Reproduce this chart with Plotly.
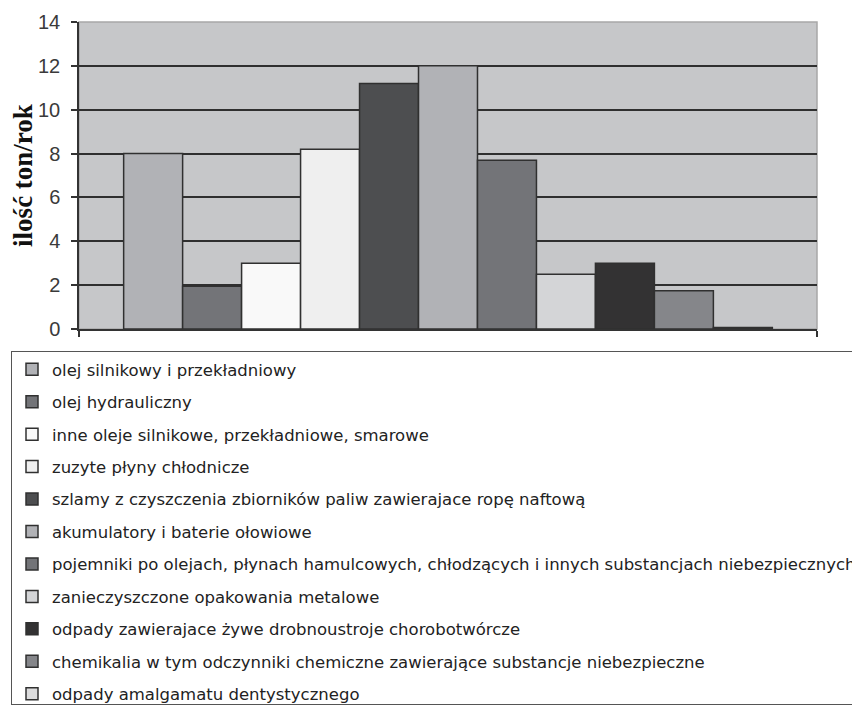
import plotly.graph_objects as go

categories = [
    "olej silnikowy i przekładniowy",
    "olej hydrauliczny",
    "inne oleje silnikowe, przekładniowe, smarowe",
    "zuzyte płyny chłodnicze",
    "szlamy z czyszczenia zbiorników paliw zawierajace ropę naftową",
    "akumulatory i baterie ołowiowe",
    "pojemniki po olejach, płynach hamulcowych, chłodzących i innych substancjach niebezpiecznych",
    "zanieczyszczone opakowania metalowe",
    "odpady zawierajace żywe drobnoustroje chorobotwórcze",
    "chemikalia w tym odczynniki chemiczne zawierające substancje niebezpieczne",
    "odpady amalgamatu dentystycznego",
]
values = [8.0, 1.95, 3.0, 8.2, 11.2, 12.0, 7.7, 2.5, 3.0, 1.75, 0.07]
colors = ["#b1b2b6", "#737478", "#f9f9f9", "#efefef", "#4d4e50", "#b1b2b6",
          "#737478", "#d4d5d7", "#333233", "#85868a", "#dcdcdd"]
y_ticks = [0, 2, 4, 6, 8, 10, 12, 14]

fig = go.Figure()
for i, (name, v, c) in enumerate(zip(categories, values, colors)):
    fig.add_trace(go.Bar(
        x=[0], y=[v], name=name, legendgroup=f"g{i}",
        marker=dict(color=c, line=dict(color="#303030", width=1.5)),
    ))

W, H = 860, 707
OFF = 8  # page body margin
ml, mr, mt, mb = 79 - OFF, W - (817 - OFF), 22 - OFF, H - (329 - OFF)
pw, ph = W - ml - mr, H - mt - mb

fig.update_layout(
    width=W, height=H,
    margin=dict(l=ml, r=mr, t=mt, b=mb, pad=0, autoexpand=False),
    paper_bgcolor="white",
    plot_bgcolor="#c6c7c9",
    barmode="group",
    bargap=0.121,
    bargroupgap=0,
    showlegend=True,
    legend=dict(
        x=(3 - ml) / pw, xanchor="left",
        y=-(351 - OFF - (H - mb)) / ph, yanchor="top",
        bgcolor="white", bordercolor="#555555", borderwidth=1,
        font=dict(family="DejaVu Sans", size=16.5, color="#222222"),
        tracegroupgap=8,
        traceorder="grouped",
    ),
    xaxis=dict(
        range=[-0.5, 0.5], tickvals=[-0.5, 0.5], showticklabels=False,
        ticks="outside", ticklen=6, tickcolor="#333333", tickwidth=1.5,
        showgrid=False, zeroline=False,
        showline=True, linecolor="#333333", linewidth=1.5, mirror=False,
    ),
    yaxis=dict(
        range=[0, 14], tickvals=y_ticks, automargin=False,
        ticks="outside", ticklen=6, tickcolor="#333333", tickwidth=1.5,
        ticklabelstandoff=7,
        tickfont=dict(family="Liberation Sans", size=20, color="#3a3a3a"),
        showgrid=True, gridcolor="#2f2f2f", gridwidth=1.5,
        zeroline=False,
        showline=True, linecolor="#333333", linewidth=1.5,
        title=dict(text="ilość ton/rok", standoff=4,
                   font=dict(family="Liberation Serif", size=27, color="#111111",
                             weight="bold")),
    ),
)
# light border on top/right of plot area
fig.add_shape(type="rect", xref="paper", yref="paper", x0=0, x1=1, y0=0, y1=1,
              line=dict(color="#a8a8a8", width=1.5), layer="below")

fig.write_html("out.html")
